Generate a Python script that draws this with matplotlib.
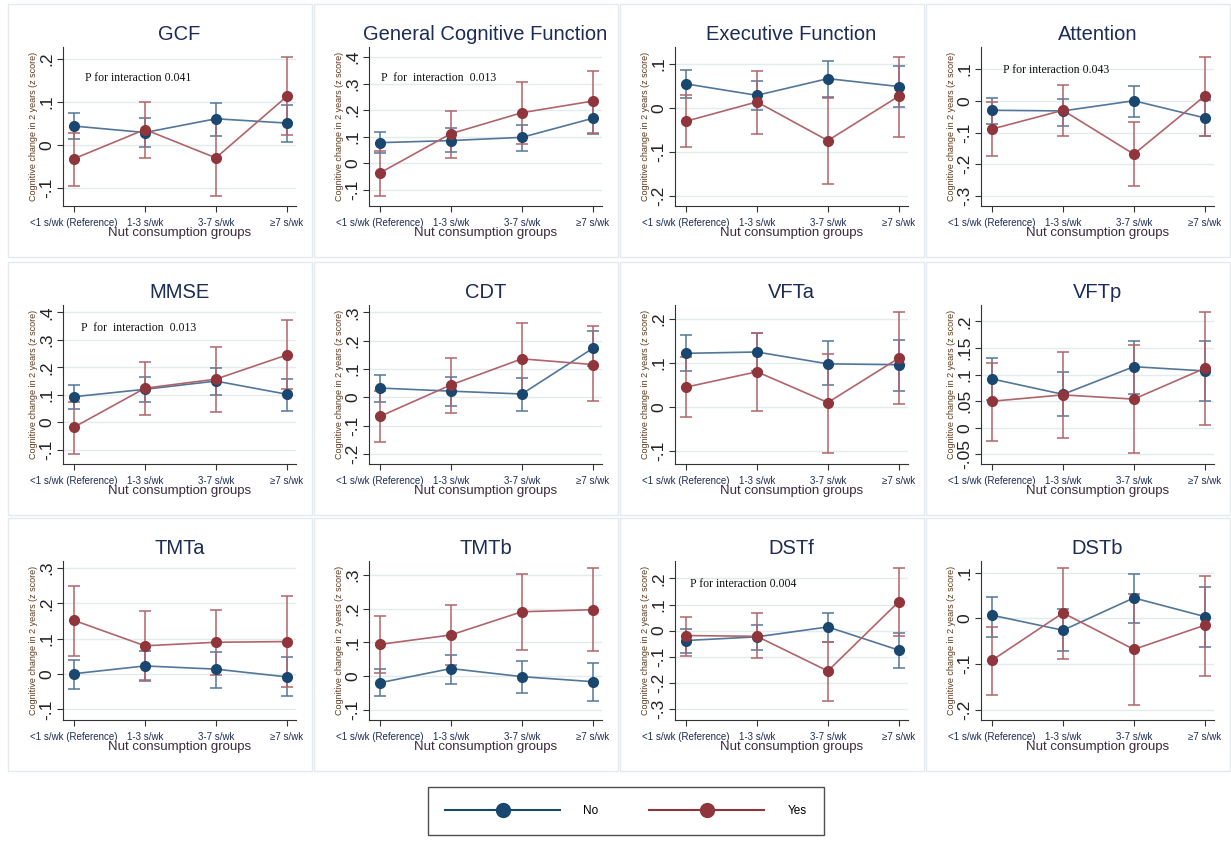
import numpy as np
import matplotlib
matplotlib.use("Agg")
import matplotlib.pyplot as plt
from matplotlib.lines import Line2D
from matplotlib.patches import Rectangle

plt.rcParams['font.family'] = ['Liberation Sans', 'DejaVu Sans']

# ---- data ----
titles = ["GCF", "General Cognitive Function", "Executive Function", "Attention",
          "MMSE", "CDT", "VFTa", "VFTp",
          "TMTa", "TMTb", "DSTf", "DSTb"]
groups = ["<1 s/wk (Reference)", "1-3 s/wk", "3-7 s/wk", "\u22657 s/wk"]

no_mean = [[0.044, 0.029, 0.061, 0.051], [0.077, 0.085, 0.097, 0.169],
           [0.055, 0.029, 0.067, 0.049], [-0.030, -0.032, 0.000, -0.054],
           [0.093, 0.120, 0.150, 0.102], [0.033, 0.022, 0.012, 0.173],
           [0.122, 0.125, 0.098, 0.096], [0.092, 0.063, 0.115, 0.107],
           [0.001, 0.023, 0.014, -0.008], [-0.020, 0.022, -0.002, -0.017],
           [-0.038, -0.024, 0.014, -0.075], [0.007, -0.026, 0.045, 0.004]]
no_lo = [[0.015, -0.004, 0.021, 0.008], [0.039, 0.040, 0.044, 0.111],
         [0.023, -0.004, 0.026, 0.002], [-0.072, -0.080, -0.050, -0.111],
         [0.049, 0.075, 0.100, 0.041], [-0.018, -0.031, -0.048, 0.112],
         [0.082, 0.081, 0.049, 0.037], [0.053, 0.023, 0.064, 0.050],
         [-0.042, -0.021, -0.040, -0.062], [-0.060, -0.023, -0.050, -0.075],
         [-0.086, -0.074, -0.042, -0.145], [-0.040, -0.071, -0.010, -0.063]]
no_hi = [[0.075, 0.062, 0.097, 0.093], [0.119, 0.132, 0.144, 0.232],
         [0.087, 0.062, 0.108, 0.096], [0.010, 0.007, 0.047, 0.001],
         [0.136, 0.165, 0.198, 0.159], [0.079, 0.073, 0.069, 0.234],
         [0.164, 0.168, 0.149, 0.153], [0.131, 0.105, 0.164, 0.164],
         [0.040, 0.066, 0.063, 0.049], [0.020, 0.063, 0.046, 0.039],
         [0.005, 0.023, 0.068, -0.010], [0.048, 0.020, 0.097, 0.070]]

yes_mean = [[-0.032, 0.036, -0.030, 0.113], [-0.037, 0.111, 0.190, 0.234],
            [-0.030, 0.014, -0.074, 0.027], [-0.089, -0.030, -0.168, 0.015],
            [-0.018, 0.124, 0.157, 0.245], [-0.067, 0.044, 0.136, 0.116],
            [0.045, 0.080, 0.010, 0.111], [0.050, 0.062, 0.054, 0.112],
            [0.152, 0.080, 0.090, 0.092], [0.094, 0.122, 0.191, 0.197],
            [-0.019, -0.022, -0.155, 0.111], [-0.092, 0.012, -0.068, -0.015]]
yes_lo = [[-0.096, -0.031, -0.118, 0.023], [-0.123, 0.019, 0.073, 0.114],
          [-0.089, -0.059, -0.174, -0.065], [-0.173, -0.112, -0.269, -0.110],
          [-0.115, 0.027, 0.038, 0.120], [-0.158, -0.054, 0.011, -0.014],
          [-0.023, -0.009, -0.106, 0.007], [-0.024, -0.020, -0.048, 0.006],
          [0.051, -0.017, -0.003, -0.036], [0.008, 0.033, 0.077, 0.074],
          [-0.097, -0.107, -0.271, -0.022], [-0.168, -0.089, -0.189, -0.127]]
yes_hi = [[0.028, 0.099, 0.059, 0.205], [0.046, 0.195, 0.306, 0.346],
          [0.030, 0.085, 0.023, 0.117], [-0.004, 0.050, -0.068, 0.138],
          [0.073, 0.221, 0.274, 0.371], [0.024, 0.138, 0.261, 0.252],
          [0.114, 0.169, 0.121, 0.216], [0.121, 0.143, 0.155, 0.217],
          [0.250, 0.179, 0.182, 0.221], [0.179, 0.211, 0.303, 0.322],
          [0.052, 0.068, -0.042, 0.240], [-0.019, 0.111, 0.053, 0.093]]

ylims = [(-0.142, 0.228), (-0.162, 0.438), (-0.223, 0.139), (-0.331, 0.169),
         (-0.152, 0.427), (-0.235, 0.326), (-0.130, 0.232), (-0.068, 0.231),
         (-0.130, 0.320), (-0.131, 0.342), (-0.343, 0.267), (-0.223, 0.126)]
yticks = [[-0.1, 0, 0.1, 0.2], [-0.1, 0, 0.1, 0.2, 0.3, 0.4],
          [-0.2, -0.1, 0, 0.1], [-0.3, -0.2, -0.1, 0, 0.1],
          [-0.1, 0, 0.1, 0.2, 0.3, 0.4], [-0.2, -0.1, 0, 0.1, 0.2, 0.3],
          [-0.1, 0, 0.1, 0.2], [-0.05, 0, 0.05, 0.1, 0.15, 0.2],
          [-0.1, 0, 0.1, 0.2, 0.3], [-0.1, 0, 0.1, 0.2, 0.3],
          [-0.3, -0.2, -0.1, 0, 0.1, 0.2], [-0.2, -0.1, 0, 0.1]]

p_texts = {0: ("P for interaction 0.041", 0.093, 0.807),
           1: ("P  for  interaction  0.013", 0.050, 0.807),
           3: ("P for interaction 0.043", 0.093, 0.855),
           4: ("P  for  interaction  0.013", 0.079, 0.853),
           10: ("P for interaction 0.004", 0.064, 0.853)}

navy = '#1a476f'
maroon = '#90353b'
navy_line = '#52769a'
maroon_line = '#b0646a'
title_col = '#1c2b57'
brown = '#5b3a1e'


def stata_fmt(v):
    if abs(v) < 1e-9:
        return "0"
    s = ("%g" % v)
    return s.replace("0.", ".")


W, H = 1231, 841
fig = plt.figure(figsize=(W / 100, H / 100), dpi=100)
fig.patch.set_facecolor('white')

col_x0 = [8, 314, 620, 926]
row_y0 = [0, 258, 514]
x = np.arange(4)

for i, title in enumerate(titles):
    r, c = divmod(i, 4)
    x0, y0 = col_x0[c], row_y0[r]
    # light panel frame
    fig.patches.append(Rectangle((x0 / W, 1 - (y0 + 257) / H), 304 / W, 253 / H,
                                 transform=fig.transFigure, fill=False,
                                 edgecolor='#e4eaee', lw=1.0))
    ax = fig.add_axes([(x0 + 55) / W, 1 - (y0 + 206) / H, 233 / W, 159 / H])

    for mean, lo, hi, mcol, lcol in [(no_mean[i], no_lo[i], no_hi[i], navy, navy_line),
                                     (yes_mean[i], yes_lo[i], yes_hi[i], maroon, maroon_line)]:
        mean = np.array(mean)
        err = [mean - np.array(lo), np.array(hi) - mean]
        ax.errorbar(x, mean, yerr=err, fmt='none', ecolor=lcol, elinewidth=1.1,
                    capsize=4.5, capthick=1.1, zorder=3)
        ax.plot(x, mean, color=lcol, lw=1.2, zorder=4)
        ax.plot(x, mean, 'o', color=mcol, ms=7, zorder=5)

    ax.set_xlim(-0.155, 3.13)
    ax.set_ylim(*ylims[i])
    ax.set_yticks(yticks[i])
    ax.set_yticklabels([stata_fmt(v) for v in yticks[i]], rotation=90,
                       va='center', fontsize=12.5, color='#222222')
    ax.set_xticks(x)
    ax.set_xticklabels(groups, fontsize=7, color=title_col)
    ax.tick_params(axis='both', length=4, width=0.8, color='#333333', pad=2)
    ax.tick_params(axis='x', pad=5)
    for s in ['top', 'right']:
        ax.spines[s].set_visible(False)
    for s in ['left', 'bottom']:
        ax.spines[s].set_color('#333333')
        ax.spines[s].set_linewidth(0.8)
    ax.grid(axis='y', color='#e2ebee', lw=1.0, zorder=0)
    ax.set_axisbelow(True)

    ax.set_title(title, fontsize=14.5, color=title_col, pad=5)
    ax.set_ylabel("Cognitive change in 2 years (z score)", fontsize=6.5,
                  color=brown, labelpad=1)
    ax.set_xlabel("Nut consumption groups", fontsize=9.5, color='#3b2a3a', labelpad=-1)

    if i in p_texts:
        txt, tx, ty = p_texts[i]
        ax.text(tx, ty, txt, transform=ax.transAxes, fontsize=8.5,
                family='Liberation Serif', color='#111111', va='center', ha='left')

handles = [Line2D([0], [0], color=navy, lw=1.5, marker='o', ms=10, markerfacecolor=navy),
           Line2D([0], [0], color=maroon, lw=1.5, marker='o', ms=10, markerfacecolor=maroon)]
leg = fig.legend(handles, ["No", "Yes"], loc='center', ncol=2,
                 bbox_to_anchor=(626 / W, 1 - 811 / H), frameon=True, fancybox=False,
                 handlelength=9.7, handletextpad=2.0, columnspacing=4.3,
                 fontsize=8.5, borderpad=1.5, borderaxespad=0)
leg.get_frame().set_edgecolor('#222222')
leg.get_frame().set_linewidth(1.0)

fig.savefig("out.png", dpi=100, facecolor='white')
